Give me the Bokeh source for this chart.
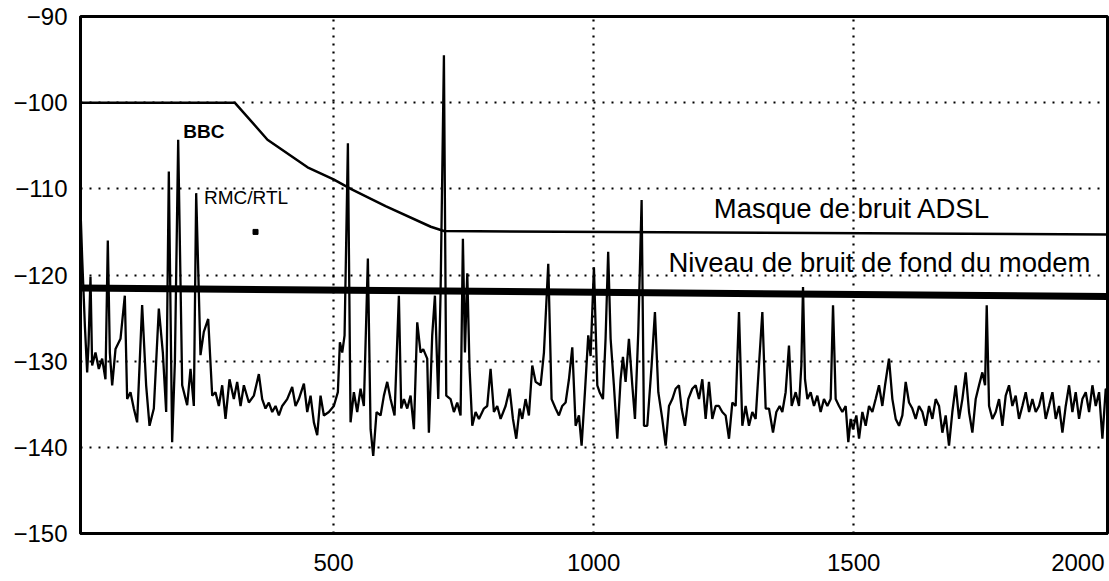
from bokeh.plotting import figure
from bokeh.models import Range1d, FixedTicker, Label
from bokeh.embed import file_html
from bokeh.resources import INLINE

# Spectrum of line noise (frequency in kHz, level in dBm/Hz)
freq = [
    13, 16.7, 22, 26.3, 29, 32.7, 35.9, 42.3, 48.7, 55.1, 61.5, 66, 69.9, 74.4, 80.8, 90.4,
    98.7, 103.2, 109.6, 116, 122.4, 132, 139.7, 146.2, 154.5, 164.1, 171.8, 178.2, 183.3,
    189.7, 195, 201.3, 209, 218.6, 225, 231.4, 235.9, 244.2, 250.6, 259, 266.7, 273, 279.5,
    285.9, 292.3, 300, 308.3, 314.7, 321.2, 327.6, 337.2,
    346.8, 356.4, 362.8, 369.2, 375.6, 382.1, 388.5, 394.9, 401.3, 410.9, 420.5, 426.9,
    433.3, 443, 449.4, 455.8, 462.2, 468.6, 475, 481.4, 491, 500.6, 508.3, 512.2, 516.7,
    521.2, 527.6, 532.7, 539.1, 545.5, 551.9, 558.3, 566, 571.2, 576.3, 582.7, 590.4,
    596.8, 603.2, 609.6, 617.3, 625.6, 630.1, 635.3, 641.7, 648.1, 654.5, 660.9, 667.3, 672.4,
    680.1, 683.3, 689.7, 694.9, 701.3, 705.8, 712.2, 716.7, 725, 731.4, 737.8, 744.2, 748.7,
    752.6, 757.1, 761.5, 766.7, 773.1, 779.5, 789.1, 795.5, 801.9, 808.3, 814.7, 821.2,
    830.8, 838.5, 844.9, 851.3, 857.7, 862.8, 869.2, 875.6, 882.1, 888.5, 898.1, 904.5,
    912.8, 919.2, 926.9, 933.3, 939.7, 946.2, 952.6, 959, 965.4, 971.8, 976.9, 983.3,
    989.7, 994.2, 1000.6, 1007.1,
    1011.5, 1018, 1023, 1028, 1032.7, 1039, 1045.5, 1051.9, 1056.4, 1061.5, 1067.9, 1074.4,
    1079.5, 1085.9, 1092.3, 1096.8, 1103.2, 1111.5, 1117.9, 1124.4, 1132, 1138.5, 1144.9,
    1151.3, 1157.7, 1164.1, 1169.2, 1175.6, 1182, 1189.7, 1196.2, 1202.6, 1209, 1215.4,
    1221.8, 1228.2, 1234.6, 1241, 1247.4, 1253.8, 1260.3, 1266.7, 1273.1, 1279.5, 1285.9,
    1292.3, 1298.7, 1305.1, 1311.5, 1317.9, 1324.4, 1330.8, 1337.2,
    1344.9, 1351.3, 1357.7, 1362.8, 1369.2, 1375.6, 1380.8, 1388.5, 1394.9, 1399.4, 1402.6,
    1406.4, 1411, 1417.3, 1423.7, 1430.1, 1436.5, 1442.9, 1449.4, 1455.8, 1460.3, 1465.4,
    1471.8, 1478.2, 1484.6, 1489.7, 1494.2, 1498.7, 1505.1, 1510.3, 1516.7, 1523.1, 1529.5,
    1535.9, 1542.3, 1548.7, 1555.1, 1560.3, 1567.9, 1574.4, 1580.8, 1587.2, 1593.6, 1600,
    1606.4, 1612.8, 1619.2, 1625.6, 1632.1, 1638.5, 1644.9, 1651.3, 1657.7, 1664.1,
    1670.5, 1676.9, 1683.3, 1689.7, 1696.2, 1702.6, 1709, 1715.4, 1721.8, 1728.2, 1734.6,
    1741, 1747.4, 1752.6, 1755.8, 1760.3, 1766.7, 1773.1, 1779.5, 1785.9, 1792.3, 1798.7,
    1805.1, 1811.5, 1817.9, 1824.4, 1830.8, 1837.2, 1843.6, 1850, 1856.4, 1862.8, 1869.2,
    1875.6, 1882.1, 1888.5, 1894.9, 1901.3, 1907.7, 1914.1, 1920.5, 1926.9, 1933.3, 1939.7,
    1946.2, 1952.6, 1959, 1965.4, 1971.8, 1978.2, 1984.6, 1991,
]
level = [
    -111.5, -118, -126, -131.3, -128, -120.2, -130.5, -129, -130.9, -129.7, -132.1, -116, -129, -132.8, -128.6, -127.4,
    -122.4, -134.4, -133.6, -135.5, -137.1, -123.5, -132.8, -137.5, -135.5, -123.9, -129, -135.9, -108,
    -139.4, -130, -104.3, -132.8, -135.1, -130.9, -135.2, -110.5, -129.3, -126.6, -125.1, -134, -133.6, -135.2,
    -132.8, -136.7, -132.1, -134.4, -132.4, -135.2, -132.8, -134.8,
    -134, -131.5, -134.4, -135.5, -134.8, -135.9, -135.2, -136.3, -135.2, -134.4, -133, -135.2,
    -134.4, -132.6, -135.9, -134, -137.1, -138.6, -134, -136.3, -135.9, -135.2, -133.6, -127.8, -129,
    -127, -104.7, -137.1, -133.6, -135.9, -133.2, -135.2, -118.1, -137.9, -141, -135.9, -136.3,
    -134, -132.4, -134.4, -136.3, -122.4, -135.5, -134.4, -135.5, -134, -137.9, -125.5, -129, -128.6,
    -129.7, -138.3, -127, -122.4, -134.4, -122, -94.5, -134, -134.4, -135.9, -134.8, -136.3, -115.8,
    -129, -119.8, -130.9, -137.5, -135.9, -136.7, -135.5, -135.2, -130.9, -135.9, -135.2, -136.7,
    -135.2, -133.2, -136.7, -139, -135.5, -136.7, -134.4, -136.3, -130.5, -132.4, -132.8, -129,
    -118.7, -134.4, -135.5, -136.3, -135.2, -134.8, -132.1, -128.4, -137.5, -136.3, -139.8, -133.6,
    -127, -129.4, -119.1, -132.8,
    -133.6, -134.4, -127.4, -117.3, -127.4, -132.8, -139, -132.1, -129.5, -132.4, -127.4, -132.8,
    -136.7, -126.6, -111.3, -137.5, -137.5, -130.5, -124.3, -133.6, -136.7, -139.8, -135.2,
    -134.4, -133.2, -132.8, -135.5, -137.5, -134.4, -133.2, -132.8, -134.4, -132.1, -136.7,
    -132.4, -136.7, -135.2, -135.2, -135.9, -136.3, -139, -134.8, -135.2, -124.3, -137.5,
    -135.2, -137.5, -135.9, -136.7, -130.5, -124.3, -135.5, -135.5,
    -138.3, -135.9, -135.2, -135.9, -133.6, -128.2, -135.2, -133.6, -135.2, -130.5, -121.4,
    -132.1, -134.4, -133.6, -135.2, -134, -135.9, -134.4, -135.2, -134.4, -123.5, -134.4,
    -135.2, -135.9, -135.2, -139.4, -136.7, -137.9, -136.3, -139, -135.9, -137.5, -135.2,
    -135.9, -134.4, -132.8, -135.2, -132.8, -129.7, -134.4, -136.7, -137.5, -136.3, -132.4,
    -134.8, -135.5, -136.7, -135.2, -135.9, -137.5, -135.2, -136.7, -134.4, -135.2,
    -138.3, -136.3, -139.8, -135.9, -132.8, -136.7, -134.4, -131.3, -135.9, -138.3, -134.4,
    -132.8, -131.3, -132.8, -123.5, -135.2, -136.7, -135.9, -134.4, -137.5, -134, -132.8,
    -135.2, -134, -136.7, -135.2, -133.6, -135.9, -134.4, -135.9, -135.2, -133.6, -136.7,
    -135.2, -133.6, -136.7, -135.2, -138.3, -135.2, -132.8, -135.9, -133.6, -136.7, -134.4,
    -133.6, -135.9, -132.8, -135.2, -133.6, -139, -133.2, -133.6,
]

# ADSL noise mask
mask_f = [0, 310, 373, 450, 500, 533, 600, 687, 712, 2000]
mask_db = [-100, -100, -104.3, -107.5, -108.9, -110, -112, -114.4, -114.9, -115.3]

# Modem noise floor
floor_f = [0, 2000]
floor_db = [-121.5, -122.5]

# Isolated dot
dot_f = [350]
dot_db = [-115]

x_ticks = [500, 1000, 1500]
# the last label "2000" sits flush with the right edge of the frame, as in the original
x_label_ticks = [500, 1000, 1500, 1931]
x_labels = {500: "500", 1000: "1000", 1500: "1500", 1931: "2000"}
y_ticks = [-150, -140, -130, -120, -110, -100, -90]
y_labels = {t: "\u2212" + str(abs(t)) for t in y_ticks}

p = figure(width=1109, height=581, output_backend="svg", toolbar_location=None,
           x_range=Range1d(13.5, 1988), y_range=Range1d(-150, -90),
           min_border_left=80, min_border_right=2, min_border_top=16, min_border_bottom=48)
p.background_fill_color = "white"
p.border_fill_color = "white"
p.outline_line_color = "black"
p.outline_line_width = 3

for ax in (p.xaxis[0], p.yaxis[0]):
    ax.axis_line_color = "black"
    ax.axis_line_width = 3
    ax.major_tick_line_color = None
    ax.minor_tick_line_color = None
    ax.major_label_text_font = "Liberation Sans"
    ax.major_label_text_font_size = "24px"
    ax.major_label_text_color = "black"

p.xaxis.ticker = FixedTicker(ticks=x_label_ticks)
p.xaxis.major_label_overrides = x_labels
p.xaxis.major_label_standoff = 14
p.yaxis.ticker = FixedTicker(ticks=y_ticks)
p.yaxis.major_label_overrides = y_labels
p.yaxis.major_label_standoff = 7

p.xgrid.ticker = FixedTicker(ticks=x_ticks)
p.ygrid.ticker = FixedTicker(ticks=y_ticks[1:-1])
for g in (p.xgrid[0], p.ygrid[0]):
    g.grid_line_color = "black"
    g.grid_line_width = 2.2
p.xgrid.grid_line_dash = "2 6"
p.ygrid.grid_line_dash = "2 7"

p.line(freq, level, line_color="black", line_width=2.3)
p.line(mask_f, mask_db, line_color="black", line_width=2.5)
p.line(floor_f, floor_db, line_color="black", line_width=7)
p.scatter(dot_f, dot_db, marker="square", size=5, color="black")

txt = dict(text_font="Liberation Sans", text_color="black")
p.add_layout(Label(x=211, y=-103.3, text="BBC", text_font_size="19px",
                   text_font_style="bold", text_baseline="middle", **txt))
p.add_layout(Label(x=251, y=-111, text="RMC/RTL", text_font_size="19px",
                   text_baseline="middle", **txt))
p.add_layout(Label(x=1231, y=-112.3, text="Masque de bruit ADSL", text_font_size="27.5px",
                   text_baseline="middle", **txt))
p.add_layout(Label(x=1144, y=-118.6, text="Niveau de bruit de fond du modem",
                   text_font_size="27.5px", text_baseline="middle", **txt))

open("out.html", "w").write(file_html(p, INLINE))
